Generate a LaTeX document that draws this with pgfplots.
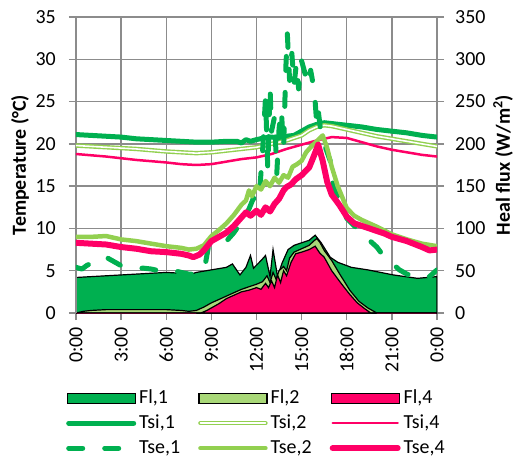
\documentclass[border=0pt]{standalone}
\usepackage{fontspec}
\setmainfont{Carlito}
\usepackage{pgfplots}
\pgfplotsset{compat=1.18}

\definecolor{dkgreen}{HTML}{00B050}
\definecolor{ltgreen}{HTML}{92D050}
\definecolor{flgreen}{HTML}{A9D878}
\definecolor{hotpink}{HTML}{FF0066}
\definecolor{gridgray}{HTML}{8C8C8C}

\pgfplotsset{
  base/.style={
    width=361bp, height=296bp, scale only axis,
    xmin=0, xmax=24,
    font=\fontsize{20}{24}\selectfont,
    /pgf/number format/assume math mode=true,
    tick align=outside, major tick length=7bp,
    tick style={gridgray, line width=1.3bp},
    axis line style={gridgray, line width=1.3bp},
    every tick label/.append style={inner sep=0pt},
  },
  lineleg/.style={legend image code/.code={\draw[##1] (2.5bp,0bp) -- (67.5bp,0bp);}},
  boxleg/.style={legend image code/.code={\draw[##1] (1bp,-5bp) rectangle (69bp,5bp);}},
}

\begin{document}
\begin{tikzpicture}

% heat flux axis (right) with grid and the three flux areas
\begin{axis}[base,
  ymin=0, ymax=350,
  axis y line*=right, axis x line*=bottom,
  xtick={0,3,...,24},
  xticklabels={0:00,3:00,6:00,9:00,12:00,15:00,18:00,21:00,0:00},
  x tick label style={yshift=-7bp, rotate=90, anchor=east},
  y tick label style={xshift=11bp},
  ytick={0,50,...,350},
  grid=major, grid style={gridgray, line width=1.3bp},
  every axis y label/.style={at={(axis description cs:1,0.5)}, xshift=66bp, rotate=90, anchor=center},
  ylabel={\bfseries Heal flux (W/m\textsuperscript{2})},
]
\addplot[fill=dkgreen, draw=black, line width=1.2bp] coordinates {
(0,42) (1,43) (2,44) (3,45) (4,46) (5,47) (6,48) (7,47) (7.5,45) (8,48) (9,51) (10,54)
(10.4,58) (10.9,45) (11.3,54) (11.6,68) (11.8,53) (12.3,62) (12.6,68) (12.9,43) (13.1,75)
(13.4,43) (13.7,59) (14.1,75) (14.5,80) (15.0,83) (15.5,86) (15.9,92) (16.3,83) (16.9,66)
(17.4,60) (18.3,54) (19.4,51) (21.1,45) (22.7,41) (24,43)
} \closedcycle;
\addplot[fill=flgreen, draw=black, line width=1.2bp] coordinates {
(0,0) (0.5,2) (1,3) (2,4) (3,4) (4,4) (5,4) (6,4) (7,3) (7.5,2) (8,3) (8.5,7) (9,12)
(9.5,16) (10,20) (10.5,24) (11,28) (11.5,31) (12,34) (12.4,37) (12.7,44) (12.9,36)
(13.1,48) (13.3,40) (13.5,50) (13.8,55) (14.0,50) (14.2,65) (14.5,72) (15.0,76) (15.5,80)
(15.8,85) (16.0,88) (16.2,84) (16.5,74) (17.0,62) (17.5,47) (18.2,27) (18.8,14) (19.4,6)
(20,0) (21,-1) (24,-1)
} \closedcycle;
\addplot[fill=hotpink, draw=black, line width=1.2bp] coordinates {
(0,-2) (8,-2) (8.3,0) (8.7,3) (9,6) (9.5,11) (10,17) (10.5,21) (11,25) (11.5,27) (12,30)
(12.3,28) (12.6,35) (12.8,30) (13.0,38) (13.2,30) (13.4,45) (13.6,36) (13.8,50) (14.0,44)
(14.3,60) (14.6,70) (15.0,72) (15.5,75) (15.9,79) (16.2,71) (16.5,66) (17.0,50) (17.5,38)
(17.8,31) (18.2,22) (18.7,12) (19.2,5) (19.6,0) (20,-2) (24,-2)
} \closedcycle;
\end{axis}

% temperature axis (left) with the six temperature curves and the legend
\begin{axis}[base,
  ymin=0, ymax=35,
  axis y line*=left, axis x line=none,
  ytick={0,5,...,35},
  y tick label style={xshift=-13bp},
  every axis y label/.style={at={(axis description cs:0,0.5)}, xshift=-56bp, rotate=90, anchor=center},
  ylabel={\bfseries Temperature (°C)},
  legend columns=3,
  legend cell align=left,
  legend style={at={(axis description cs:0,0)}, anchor=north west,
    xshift=-10bp, yshift=-76bp, draw=none, fill=none, inner sep=0pt,
    row sep=7bp,
    nodes={inner xsep=0pt, inner ysep=0pt, text height=14bp, text depth=4bp},
    /tikz/every odd column/.append style={column sep=3bp},
    /tikz/every even column/.append style={column sep=18bp},
    font=\fontsize{20}{24}\selectfont},
]
\addlegendimage{boxleg, fill=dkgreen, draw=black, line width=1.2bp}
\addlegendentry{Fl,1}
\addlegendimage{boxleg, fill=flgreen, draw=black, line width=1.2bp}
\addlegendentry{Fl,2}
\addlegendimage{boxleg, fill=hotpink, draw=black, line width=1.2bp}
\addlegendentry{Fl,4}

% Tsi,1
\addplot[lineleg, dkgreen, line width=5bp, line cap=round, line join=round] coordinates {
(0,21.1) (1,21.0) (2,20.9) (3,20.8) (4,20.6) (5,20.5) (6,20.4) (7,20.3) (8,20.2) (9,20.2)
(10,20.3) (10.7,20.3) (11.0,20.1) (11.3,20.5) (11.6,20.3) (12.0,20.5) (12.5,20.7) (13.0,20.8)
(13.5,20.7) (14.0,20.9) (14.5,21.0) (15.0,21.5) (15.5,22.0) (16.0,22.3) (16.5,22.5) (17.0,22.4)
(18.0,22.2) (19.0,22.0) (20.0,21.7) (21.0,21.5) (22.0,21.3) (23.0,21.0) (24.0,20.8)
};
\addlegendentry{Tsi,1}
% Tsi,2
\addplot[lineleg, ltgreen, line width=1.4bp, double=white, double distance=1.6bp, line cap=round, line join=round] coordinates {
(0,19.8) (2,19.6) (4,19.4) (6,19.1) (8,18.9) (9,19.0) (10,19.2) (11,19.4) (12,19.6) (13,20.0)
(14,20.4) (15,21.0) (15.5,21.6) (16,22.0) (16.5,22.2) (17,22.1) (18,21.7) (19,21.3) (20,20.9)
(21,20.6) (22,20.3) (23,20.0) (24,19.7)
};
\addlegendentry{Tsi,2}
% Tsi,4
\addplot[lineleg, hotpink, line width=2.5bp, line cap=round, line join=round] coordinates {
(0,18.8) (2,18.5) (4,18.1) (6,17.8) (7,17.6) (8,17.5) (9,17.6) (10,17.9) (11,18.2) (12,18.4)
(13,18.8) (14,19.4) (15,19.9) (16,20.4) (17,20.8) (18,20.7) (19,20.2) (20,19.7) (21,19.3)
(22,19.0) (23,18.7) (24,18.5)
};
\addlegendentry{Tsi,4}
% Tse,1
\addplot[lineleg, dkgreen, line width=5bp, line cap=round, line join=round, dash pattern=on 14bp off 22bp] coordinates {
(0,5.4) (0.4,5.2) (0.7,5.6) (1.0,5.9) (1.5,6.5) (2.0,6.6) (2.5,6.1) (3.0,5.6) (3.5,5.4)
(4.0,5.3) (4.5,5.3) (5.0,5.2) (5.5,5.0) (6.0,5.0) (6.5,5.0) (7.0,4.8) (7.5,4.6) (8.0,4.6)
(8.3,4.8) (8.6,5.8) (8.8,7.8) (9.0,7.8) (9.5,8.0) (10.0,8.5) (10.5,9.5) (11.0,10.8)
(11.5,12.3) (11.8,13.6) (12.0,13.0) (12.2,14.2) (12.4,19.0) (12.6,25.5) (12.75,17.0)
(12.9,26.8) (13.0,21.5) (13.2,23.2) (13.35,16.5) (13.5,21.8) (13.65,24.0) (13.8,19.5)
(13.95,29.0) (14.05,33.0) (14.2,27.5) (14.35,30.7) (14.5,27.0) (14.65,29.5) (14.8,26.5)
(15.0,29.8) (15.2,28.5) (15.4,27.0) (15.6,28.7) (15.85,26.2) (16.0,22.5) (16.1,24.0)
(16.3,21.0) (16.6,19.5) (16.9,18.0) (17.1,14.9) (17.6,13.0) (18.0,11.2) (18.5,10.3)
(19.0,9.6) (19.5,8.6) (20.0,7.8) (20.5,6.6) (21.0,5.9) (21.5,5.1) (22.0,4.6) (22.5,4.3)
(23.0,4.1) (23.5,4.3) (24.0,5.1)
};
\addlegendentry{Tse,1}
% Tse,2
\addplot[lineleg, ltgreen, line width=4.5bp, line cap=round, line join=round] coordinates {
(0,9.0) (1,9.0) (2,9.1) (3,8.7) (4,8.5) (5,8.2) (6,7.9) (7,7.7) (7.5,7.5) (8,7.6) (8.5,8.0)
(9,9.1) (9.5,9.8) (10,10.6) (10.5,11.6) (11,12.8) (11.3,13.3) (11.5,14.5) (11.7,13.8)
(12,15.0) (12.3,14.6) (12.6,15.6) (12.9,15.0) (13.2,16.0) (13.5,15.4) (13.8,16.3) (14.1,16.0)
(14.4,17.3) (14.7,17.6) (15.0,18.0) (15.3,19.0) (15.6,19.6) (16.0,20.3) (16.4,21.0)
(16.7,19.5) (17.0,17.3) (17.4,15.0) (18.0,12.4) (18.5,11.5) (19.0,11.0) (19.5,10.6)
(20.0,10.2) (21.0,9.3) (22.0,8.7) (23.0,8.2) (24.0,7.9)
};
\addlegendentry{Tse,2}
% Tse,4
\addplot[lineleg, hotpink, line width=6bp, line cap=round, line join=round] coordinates {
(0,8.3) (1,8.2) (2,8.1) (3,7.8) (4,7.6) (5,7.3) (6,7.2) (7,7.0) (7.5,6.8) (7.8,6.6) (8.2,6.9)
(8.5,7.4) (9,8.5) (9.5,9.0) (10,9.5) (10.5,10.3) (11,11.3) (11.3,11.9) (11.6,11.5) (12,12.1)
(12.3,11.6) (12.6,12.5) (12.9,12.0) (13.2,12.9) (13.5,13.5) (13.8,14.5) (14.0,14.9)
(14.3,15.2) (14.6,15.8) (15.0,16.3) (15.5,17.2) (15.8,18.5) (16.1,19.9) (16.4,18.0)
(16.7,15.5) (17.0,14.0) (17.5,12.8) (18.0,11.4) (18.5,10.6) (19.0,10.3) (19.5,10.0)
(20.0,9.7) (20.5,9.4) (21.0,9.0) (22.0,8.5) (23.0,7.8) (23.5,7.4) (24,7.5)
};
\addlegendentry{Tse,4}
\end{axis}

\pgfresetboundingbox
\path (-76bp,-144bp) rectangle (438bp,313bp);
\end{tikzpicture}
\end{document}
